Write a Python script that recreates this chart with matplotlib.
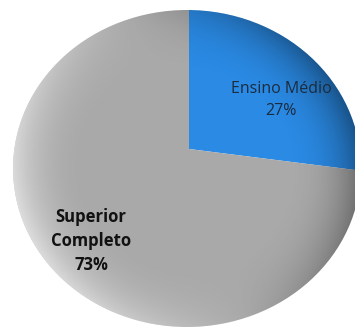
import numpy as np
import matplotlib
matplotlib.use("Agg")
from matplotlib import pyplot as plt
from matplotlib.patches import Ellipse

# dados
categorias = ["Ensino Médio", "Superior Completo"]
valores = [27, 73]
cores = ["#2a8ae4", "#a9a9a9"]

plt.rcParams["font.family"] = ["Open Sans", "DejaVu Sans"]

fig = plt.figure(figsize=(3.55, 3.29), dpi=100)
ax = fig.add_axes([0, 0, 1, 1])

# contorno da pizza (levemente oval) e o vértice das fatias
cx, cy, rx, ry = 187, 160.5, 174, 158.5
vertice = (189, 180)

borda = Ellipse((cx, cy), 2 * rx, 2 * ry, transform=ax.transData)

fatias, _ = ax.pie(valores, colors=cores, startangle=90, counterclock=False,
                   center=vertice, radius=300, wedgeprops=dict(linewidth=0))
for f in fatias:
    f.set_clip_on(True)
    f.set_clip_path(borda)

# sombreado de bisel: claro à esquerda, escuro embaixo/à direita
xs = np.linspace(cx - rx, cx + rx, 400)
ys = np.linspace(cy - ry, cy + ry, 400)
X, Y = np.meshgrid(xs, ys)
u = (X - cx) / rx
v = (Y - cy) / ry
r = np.sqrt(u**2 + v**2) + 1e-9
borda_t = np.clip((r - 0.55) / 0.45, 0, 1) ** 2.5
luz = np.array([-1.0, -0.35])
luz = luz / np.linalg.norm(luz)
s = borda_t * (u * luz[0] + v * luz[1]) / r
img = np.zeros(X.shape + (4,))
claro = s > 0
img[claro, :3] = 1.0
img[claro, 3] = s[claro] * 0.6
img[~claro, :3] = 0.0
img[~claro, 3] = -s[~claro] * 0.4
im = ax.imshow(img, extent=(cx - rx, cx + rx, cy - ry, cy + ry),
               origin="lower", interpolation="bilinear", zorder=3)
im.set_clip_path(borda)

# rótulos com o percentual de cada fatia
total = sum(valores)
pct = [round(100 * v / total) for v in valores]
ax.text(281, 229, f"{categorias[0]}\n{pct[0]}%", ha="center", va="center",
        fontsize=11.5, color="#1c2b3e", linespacing=1.55, zorder=4)
ax.text(91, 88, "Superior\nCompleto\n" + f"{pct[1]}%", ha="center", va="center",
        fontsize=12, fontweight="bold", color="#111111", linespacing=1.4,
        zorder=4)

ax.set_xlim(0, 355)
ax.set_ylim(0, 329)
ax.set_aspect("equal")
ax.axis("off")

fig.savefig("out.png", dpi=100)
